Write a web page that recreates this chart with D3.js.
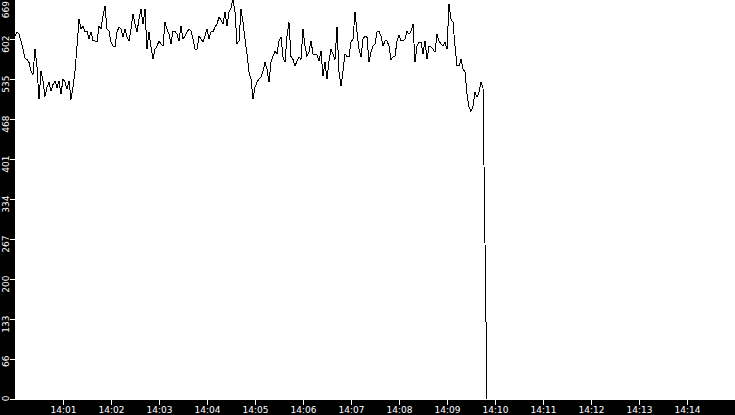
<!DOCTYPE html>
<html>
<head>
<meta charset="utf-8">
<script src="https://cdn.jsdelivr.net/npm/d3@7"></script>
<style>
  body { margin: 0; background: #fff; }
  svg { display: block; }
  text { font-family: "DejaVu Sans", sans-serif; font-size: 9px; fill: #fff; }
</style>
</head>
<body>
<div id="chart"></div>
<script>
// chart size, same as the window
const svgWidth = 735;
const svgHeight = 415;
const margin = { top: 0, right: 0, bottom: 15, left: 15 };

// samples are 2.5 s apart, first one just before 14:00
const firstSample = new Date(2000, 0, 1, 13, 59, 57, 500);
const sampleStep = 2.5; // seconds

// values, one per sample
const values = [
    585,
    607, 614, 610, 599, 585, 570, 568, 563, 548, 543, 585, 555, 501, 548, 532, 506, 521, 530, 515, 526,
    532, 521, 532, 510, 535, 530, 518, 532, 501, 521, 548, 590, 635, 619, 624, 614, 615, 602, 614, 599,
    599, 597, 624, 619, 641, 657, 619, 615, 597, 590, 589, 614, 622, 619, 605, 619, 605, 599, 619, 644,
    627, 614, 635, 652, 627, 652, 585, 614, 589, 568, 585, 590, 599, 594, 590, 630, 619, 610, 594, 615,
    615, 610, 599, 624, 602, 607, 614, 619, 615, 602, 585, 585, 607, 602, 597, 607, 619, 602, 614, 614,
    622, 627, 639, 634, 627, 647, 624, 647, 654, 669, 647, 594, 599, 652, 630, 602, 577, 547, 535, 501,
    521, 530, 535, 538, 548, 563, 552, 530, 563, 573, 582, 577, 599, 605, 572, 563, 607, 630, 573, 568,
    557, 565, 572, 568, 619, 590, 573, 580, 599, 577, 577, 575, 565, 582, 540, 563, 535, 565, 585, 577,
    568, 622, 547, 523, 548, 577, 573, 572, 597, 602, 647, 614, 585, 572, 602, 607, 605, 563, 580, 590,
    594, 614, 615, 607, 590, 599, 599, 590, 568, 572, 573, 599, 609, 599, 599, 602, 615, 610, 615, 627,
    563, 590, 597, 597, 577, 599, 568, 590, 589, 585, 580, 610, 599, 594, 590, 597, 585, 661, 635, 630,
    590, 557, 557, 568, 552, 547, 510, 488, 481, 490, 513, 505, 513, 530, 521,
    261, 0
];

// axis stuff
const timeStart = "14:00";
const timeEnd = "14:15";
const xTickLabels = ["14:01", "14:02", "14:03", "14:04", "14:05", "14:06", "14:07",
                     "14:08", "14:09", "14:10", "14:11", "14:12", "14:13", "14:14"];
const yMax = 669;
const yTickLabels = ["0", "66", "133", "200", "267", "334", "401", "468", "535", "602", "669"];

// "14:05" -> date on the same day as the samples
function clock(s) {
    const parts = s.split(":");
    return new Date(2000, 0, 1, +parts[0], +parts[1], 0);
}

const data = values.map((v, i) => ({
    t: new Date(firstSample.getTime() + i * sampleStep * 1000),
    v: v
}));

const svg = d3.select("#chart")
    .append("svg")
    .attr("width", svgWidth)
    .attr("height", svgHeight);

const x = d3.scaleTime()
    .domain([clock(timeStart), clock(timeEnd)])
    .range([margin.left, svgWidth - margin.right]);

const y = d3.scaleLinear()
    .domain([0, yMax])
    .range([svgHeight - margin.bottom - 1, -1]);

// the trace
const line = d3.line()
    .x(d => x(d.t))
    .y(d => y(d.v));

svg.append("path")
    .datum(data)
    .attr("fill", "none")
    .attr("stroke", "#000")
    .attr("stroke-width", 1)
    .attr("shape-rendering", "crispEdges")
    .attr("d", line);

// black strips for the axes, drawn over the line
svg.append("rect")
    .attr("x", 0).attr("y", 0)
    .attr("width", margin.left).attr("height", svgHeight)
    .attr("fill", "#000");

svg.append("rect")
    .attr("x", 0).attr("y", svgHeight - margin.bottom)
    .attr("width", svgWidth).attr("height", margin.bottom)
    .attr("fill", "#000");

// x axis, white ticks going down into the strip
const xAxis = svg.append("g")
    .attr("transform", `translate(0, ${svgHeight - margin.bottom})`)
    .call(d3.axisBottom(x)
        .tickValues(xTickLabels.map(clock))
        .tickSize(5)
        .tickPadding(2)
        .tickFormat(d3.timeFormat("%H:%M")));

xAxis.select(".domain").remove();
xAxis.selectAll("line").attr("stroke", "#fff").attr("shape-rendering", "crispEdges");
xAxis.selectAll("text")
    .attr("fill", "#fff")
    .style("font-size", "9px")
    .style("font-family", "'DejaVu Sans', sans-serif");

// y axis, labels turned on their side
const yTickValues = yTickLabels.map((s, i) => yMax * i / 10);

const yAxis = svg.append("g")
    .attr("transform", `translate(${margin.left}, 0)`)
    .call(d3.axisLeft(y)
        .tickValues(yTickValues)
        .tickSize(5)
        .tickFormat((d, i) => yTickLabels[i]));

yAxis.select(".domain").remove();
yAxis.selectAll("line").attr("stroke", "#fff").attr("shape-rendering", "crispEdges");
yAxis.selectAll("text")
    .attr("fill", "#fff")
    .attr("x", 0)
    .attr("dy", null)
    .attr("text-anchor", "end")
    .style("font-size", "9px")
    .style("font-family", "'DejaVu Sans', sans-serif")
    // top label gets pushed down so it stays on screen
    .attr("transform", d => {
        const shift = Math.max(y(d) - 4, 0.5) - y(d);
        return `translate(-6, ${shift}) rotate(-90)`;
    });
</script>
</body>
</html>
